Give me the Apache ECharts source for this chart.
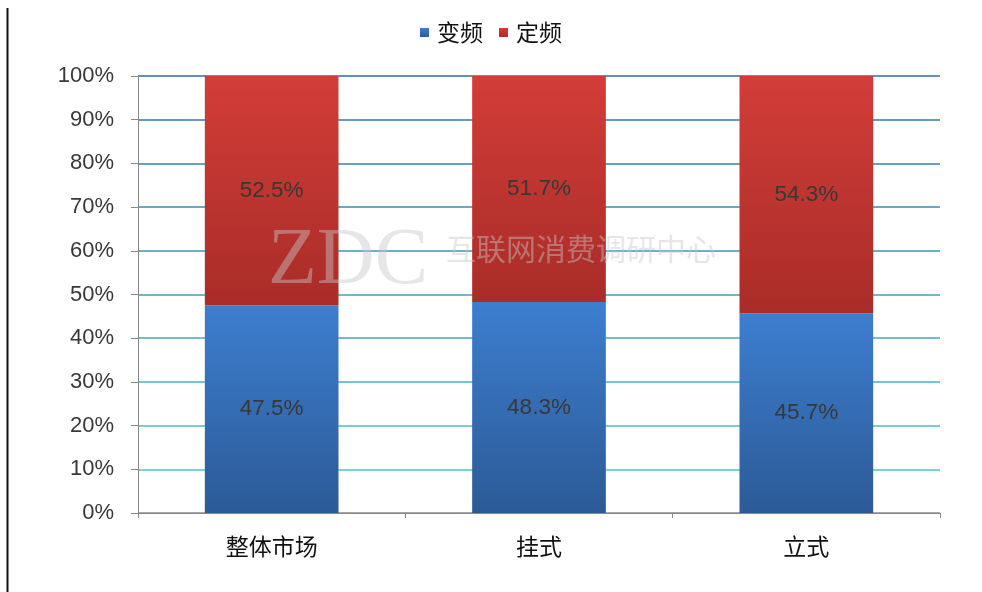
<!DOCTYPE html>
<html><head><meta charset="utf-8">
<script src="https://cdn.jsdelivr.net/npm/echarts@6/dist/echarts.min.js"></script>
<style>html,body{margin:0;padding:0;background:#fff}#c{width:982px;height:592px}</style>
</head><body><div id="c"></div>
<script>
const categories = ['整体市场', '挂式', '立式'];
const inverter = [47.5, 48.3, 45.7];
const fixed = [52.5, 51.7, 54.3];
const yTicks = [0, 10, 20, 30, 40, 50, 60, 70, 80, 90, 100];

const chart = echarts.init(document.getElementById('c'));
const lbl = {show: true, position: 'inside', color: '#383838', fontSize: 22.5, fontFamily: 'Liberation Sans, Arial, sans-serif', formatter: p => p.value.toFixed(1) + '%'};
chart.setOption({
  animation: false,
  backgroundColor: '#fff',
  legend: {
    top: 16, left: 'center', itemWidth: 9, itemHeight: 9, itemGap: 16,
    icon: 'rect',
    textStyle: {fontSize: 23, color: '#111', fontFamily: 'Noto Sans CJK SC', padding: [0, 0, 0, 3]},
    data: ['变频', '定频']
  },
  grid: {left: 138, right: 42, top: 76, bottom: 79},
  xAxis: {
    type: 'category', data: categories,
    axisLine: {lineStyle: {color: '#888'}},
    axisTick: {show: true, length: 5, lineStyle: {color: '#888'}},
    axisLabel: {fontSize: 23, color: '#111', margin: 22, fontFamily: 'Noto Sans CJK SC'}
  },
  yAxis: {
    type: 'value', min: 0, max: 100, interval: 10,
    data: yTicks,
    axisLine: {show: true, lineStyle: {color: '#888'}},
    axisTick: {show: true, length: 7, lineStyle: {color: '#888'}},
    axisLabel: {fontSize: 22, color: '#383838', margin: 24, fontFamily: 'Liberation Sans, Arial, sans-serif', formatter: v => v + '%'},
    splitLine: {lineStyle: {width: 1.5, color: ['#888', '#4cc4c0', '#4abcc0', '#47b2c0', '#44a8be', '#419ebc', '#3e94b8', '#3b8ab4', '#3880b0', '#3576ac', '#3468a0']}}
  },
  series: [
    {name: '变频', type: 'bar', stack: 'a', barWidth: '50%', data: inverter, label: lbl,
     itemStyle: {color: new echarts.graphic.LinearGradient(0, 0, 0, 1, [{offset: 0, color: '#3d7ecf'}, {offset: 1, color: '#2c5a97'}])}},
    {name: '定频', type: 'bar', stack: 'a', barWidth: '50%', data: fixed, label: lbl,
     itemStyle: {color: new echarts.graphic.LinearGradient(0, 0, 0, 1, [{offset: 0, color: '#d23d38'}, {offset: 1, color: '#a92c28'}])}}
  ],
  graphic: [
    {type: 'line', shape: {x1: 7.5, y1: 8, x2: 7.5, y2: 592}, style: {stroke: '#111', lineWidth: 2}},
    {type: 'text', left: 268, top: 222, z: 100, style: {text: 'ZDC', fontSize: 80, fontFamily: 'Liberation Serif, serif', fill: 'rgba(200,200,200,0.45)'}},
    {type: 'text', left: 446, top: 234, z: 100, style: {text: '互联网消费调研中心', fontSize: 30, fontFamily: 'Noto Sans CJK SC', fill: 'rgba(200,200,200,0.45)'}}
  ]
});
</script></body></html>
